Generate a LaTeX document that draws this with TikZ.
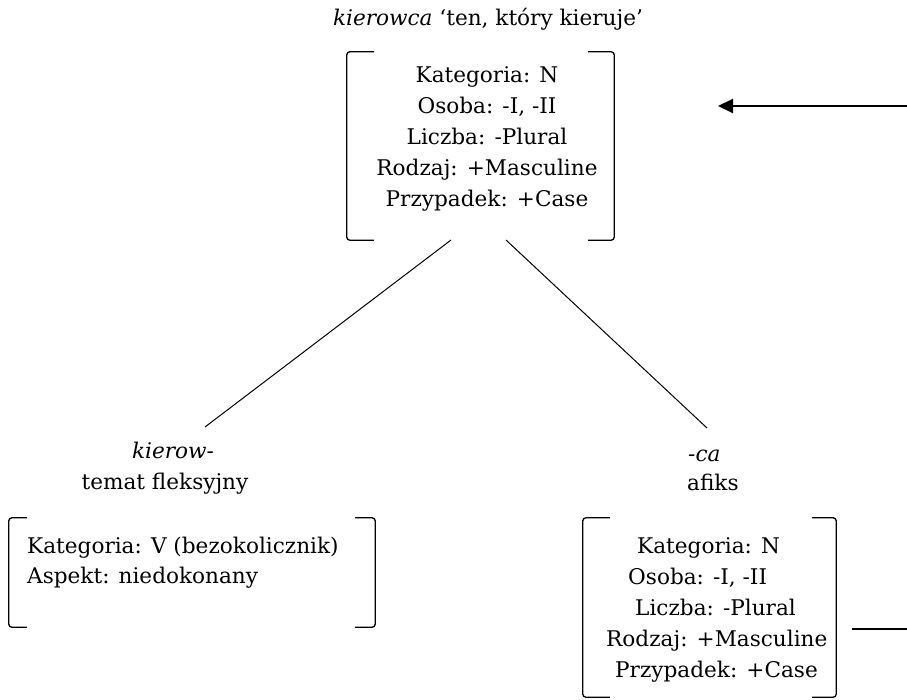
\documentclass[tikz,border=0pt]{standalone}
\usepackage{fontspec}
\setmainfont{DejaVu Serif}
\usetikzlibrary{arrows.meta}
\tikzset{
  txt/.style={inner sep=0pt, font=\fontsize{21.6}{31}\selectfont},
  brk/.style={line width=1.3pt, rounded corners=3pt},
  boxarea/.style={draw=none, inner sep=0pt},
  tree/.style={line width=1pt},
  arr/.style={line width=2pt, -{Triangle[length=15pt,width=14pt]}},
  plain/.style={line width=2pt}
}
\begin{document}
\begin{tikzpicture}[x=1pt,y=-1pt]
\useasboundingbox (0,0) rectangle (907,699);
% title
\node[txt, anchor=base] (title) at (488,25) {\textit{kierowca} ‘ten, który kieruje’};
% top box
\node[boxarea, minimum width=267pt, minimum height=188pt] (topbox) at (480.5,146) {};
\draw[brk] ([xshift=27pt]topbox.north west) -- (topbox.north west) -- (topbox.south west) -- ([xshift=27pt]topbox.south west);
\draw[brk] ([xshift=-26pt]topbox.north east) -- (topbox.north east) -- (topbox.south east) -- ([xshift=-26pt]topbox.south east);
\node[txt, anchor=base] (t1) at (487,82) {Kategoria: N};
\node[txt, anchor=base] (t2) at (487,113) {Osoba: -I, -II};
\node[txt, anchor=base] (t3) at (487,144) {Liczba: -Plural};
\node[txt, anchor=base] (t4) at (487,175) {Rodzaj: +Masculine};
\node[txt, anchor=base] (t5) at (487,206) {Przypadek: +Case};
% left daughter
\node[txt, anchor=base] (lhead) at (173,458) {\textit{kierow-}};
\node[txt, anchor=base] (lsub) at (165,489) {temat fleksyjny};
\node[boxarea, minimum width=366pt, minimum height=109pt] (lbox) at (192,572.5) {};
\draw[brk] ([xshift=18pt]lbox.north west) -- (lbox.north west) -- (lbox.south west) -- ([xshift=18pt]lbox.south west);
\draw[brk] ([xshift=-20pt]lbox.north east) -- (lbox.north east) -- (lbox.south east) -- ([xshift=-20pt]lbox.south east);
\node[txt, anchor=base west] (l1) at (27,553) {Kategoria: V (bezokolicznik)};
\node[txt, anchor=base west] (l2) at (27,583) {Aspekt: niedokonany};
% right daughter
\node[txt, anchor=base west] (rhead) at (688,461) {\textit{-ca}};
\node[txt, anchor=base west] (rsub) at (687,490) {afiks};
\node[boxarea, minimum width=253pt, minimum height=179pt] (rbox) at (709.5,607.5) {};
\draw[brk] ([xshift=27pt]rbox.north west) -- (rbox.north west) -- (rbox.south west) -- ([xshift=27pt]rbox.south west);
\draw[brk] ([xshift=-24pt]rbox.north east) -- (rbox.north east) -- (rbox.south east) -- ([xshift=-24pt]rbox.south east);
\node[txt, anchor=base west] (r1) at (637,553) {Kategoria: N};
\node[txt, anchor=base west] (r2) at (628,584) {Osoba: -I, -II};
\node[txt, anchor=base west] (r3) at (635,615) {Liczba: -Plural};
\node[txt, anchor=base west] (r4) at (606,646) {Rodzaj: +Masculine};
\node[txt, anchor=base west] (r5) at (615,677) {Przypadek: +Case};
% tree lines
\coordinate (topL) at (451,240);
\coordinate (topR) at (506,240);
\coordinate (leftEnd) at (205,427);
\coordinate (rightEnd) at (707,428);
\draw[tree] (topL) -- (leftEnd);
\draw[tree] (topR) -- (rightEnd);
% arrows off the right edge
\coordinate (inA) at (907,106);
\coordinate (tipA) at (718,106);
\coordinate (startB) at (852,629);
\coordinate (outB) at (907,629);
\draw[arr] (inA) -- (tipA);
\draw[plain] (startB) -- (outB);
\end{tikzpicture}
\end{document}
